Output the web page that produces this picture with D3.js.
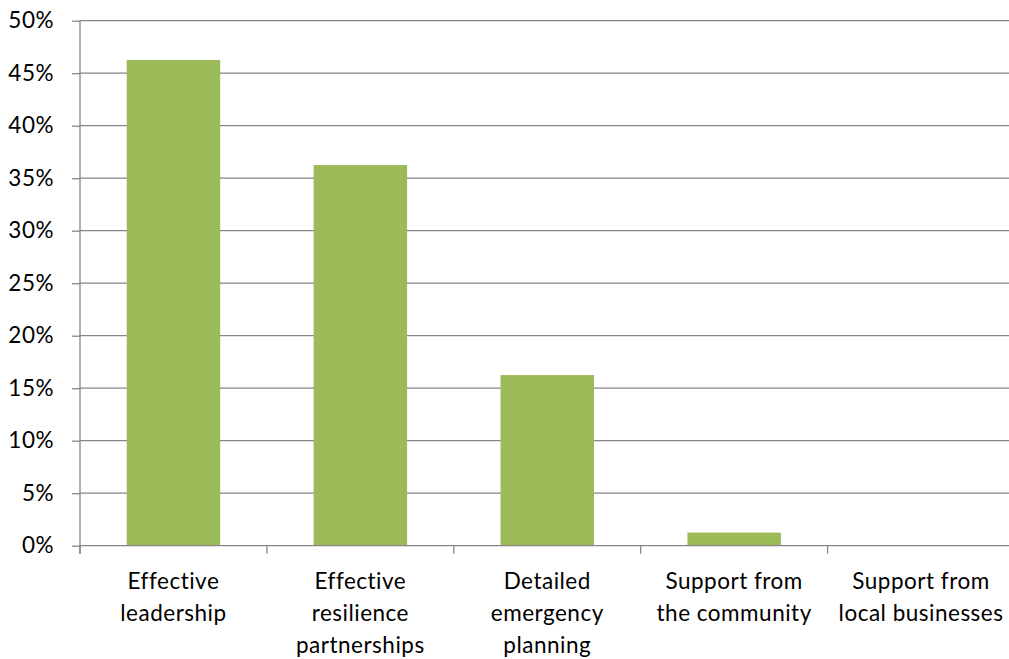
<!DOCTYPE html>
<html>
<head>
<meta charset="utf-8">
<script src="https://cdn.jsdelivr.net/npm/d3@7"></script>
<style>
  html, body { margin: 0; padding: 0; background: #fff; }
  svg { display: block; }
  text { font-family: Lato, "Open Sans", sans-serif; fill: #000; letter-spacing: 0.5px; }
</style>
</head>
<body>
<svg id="chart" width="1009" height="659"></svg>
<script>
// Share of responses per factor
const categories = [
  ["Effective", "leadership"],
  ["Effective", "resilience", "partnerships"],
  ["Detailed", "emergency", "planning"],
  ["Support from", "the community"],
  ["Support from", "local businesses"]
];
const values = [46.25, 36.25, 16.25, 1.25, 0];
const yTicks = [0, 5, 10, 15, 20, 25, 30, 35, 40, 45, 50];

const svg = d3.select("#chart");
const margin = { left: 80, top: 20.7, right: 1014.5, bottom: 545.7 };
const fontSize = "22.5px";

const keys = categories.map((c, i) => i);
const x = d3.scaleBand()
  .domain(keys)
  .range([margin.left, margin.right])
  .paddingInner(0.5)
  .paddingOuter(0.25);

const y = d3.scaleLinear()
  .domain([0, 50])
  .range([margin.bottom, margin.top]);

const gridColor = "#868686";

// horizontal gridlines
svg.append("g")
  .selectAll("line")
  .data(yTicks.filter(t => t > 0))
  .join("line")
  .attr("x1", margin.left)
  .attr("x2", 1009)
  .attr("y1", d => y(d))
  .attr("y2", d => y(d))
  .attr("stroke", gridColor)
  .attr("stroke-width", 1.3);

// bars
svg.append("g")
  .selectAll("rect")
  .data(values)
  .join("rect")
  .attr("x", (d, i) => x(i))
  .attr("width", x.bandwidth())
  .attr("y", d => y(d))
  .attr("height", d => y(0) - y(d))
  .attr("fill", "#9bbb59");

// y axis
const yAxis = svg.append("g")
  .attr("transform", `translate(${margin.left},0)`)
  .call(d3.axisLeft(y).tickValues(yTicks).tickFormat(d => d + "%").tickSize(8).tickPadding(18));
yAxis.select(".domain").attr("stroke", gridColor).attr("stroke-width", 1.3)
  .attr("d", `M0,${margin.bottom + 8}V${margin.top}`);
yAxis.selectAll(".tick line").attr("stroke", gridColor).attr("stroke-width", 1.3);
yAxis.selectAll(".tick text")
  .style("font-size", fontSize)
  .style("font-family", "Lato, sans-serif")
  .attr("fill", "#000");

// x axis baseline and category dividers
const step = x.step();
const boundaries = d3.range(categories.length + 1).map(i => margin.left + i * step);
svg.append("line")
  .attr("x1", margin.left).attr("x2", 1009)
  .attr("y1", y(0)).attr("y2", y(0))
  .attr("stroke", gridColor).attr("stroke-width", 1.3);
svg.append("g")
  .selectAll("line")
  .data(boundaries.filter(b => b < 1009))
  .join("line")
  .attr("x1", d => d).attr("x2", d => d)
  .attr("y1", y(0)).attr("y2", y(0) + 8)
  .attr("stroke", gridColor).attr("stroke-width", 1.3);

// category labels
const labels = svg.append("g");
categories.forEach((lines, i) => {
  const cx = x(i) + x.bandwidth() / 2;
  const t = labels.append("text")
    .attr("text-anchor", "middle")
    .style("font-size", fontSize);
  lines.forEach((ln, j) => {
    t.append("tspan")
      .attr("x", cx)
      .attr("y", 589 + j * 32)
      .text(ln);
  });
});
</script>
</body>
</html>
